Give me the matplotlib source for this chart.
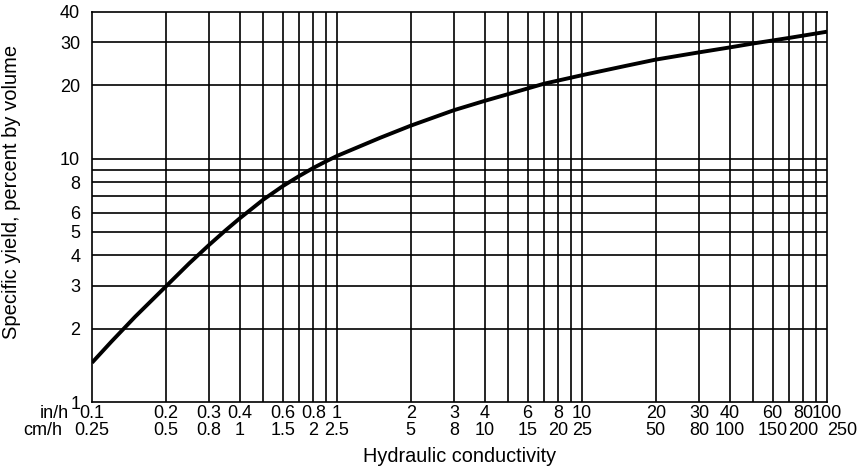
import matplotlib.pyplot as plt
from matplotlib.ticker import NullLocator

plt.rcParams['font.family'] = ['Liberation Sans', 'DejaVu Sans']

# curve (hydraulic conductivity in/h vs specific yield %)
k_inh = [0.1, 0.12, 0.15, 0.2, 0.25, 0.3, 0.35, 0.4, 0.5, 0.6, 0.7, 0.8, 0.9, 1,
         1.5, 2, 3, 4, 5, 7, 10, 15, 20, 30, 40, 50, 70, 100]
yield_pct = [1.45, 1.77, 2.24, 2.98, 3.72, 4.41, 5.06, 5.67, 6.78, 7.7, 8.47, 9.15, 9.73, 10.25,
             12.17, 13.65, 15.8, 17.25, 18.4, 20.3, 22.0, 24.0, 25.5, 27.3, 28.6, 29.7, 31.3, 33.2]

# paired tick labels, in/h and cm/h
inh_ticks = [0.1, 0.2, 0.3, 0.4, 0.6, 0.8, 1, 2, 3, 4, 6, 8, 10, 20, 30, 40, 60, 80, 100]
inh_labels = ['0.1', '0.2', '0.3', '0.4', '0.6', '0.8', '1', '2', '3', '4', '6', '8',
              '10', '20', '30', '40', '60', '80', '100']
cmh_labels = ['0.25', '0.5', '0.8', '1', '1.5', '2', '2.5', '5', '8', '10', '15', '20',
              '25', '50', '80', '100', '150', '200', '250']

x_grid = [0.2, 0.3, 0.4, 0.5, 0.6, 0.7, 0.8, 0.9,
          1, 2, 3, 4, 5, 6, 7, 8, 9,
          10, 20, 30, 40, 50, 60, 70, 80, 90]
y_grid = [2, 3, 4, 5, 6, 7, 8, 9, 10, 20, 30]
y_ticks = [1, 2, 3, 4, 5, 6, 8, 10, 20, 30, 40]

fig = plt.figure(figsize=(8.67, 4.72), dpi=100)
ax = fig.add_axes([0.1061, 0.1483, 0.8478, 0.8263])
ax.set_xscale('log')
ax.set_yscale('log')
ax.set_xlim(0.1, 100)
ax.set_ylim(1, 40)

# grid drawn by hand: all vertical decade subdivisions, only some horizontals
for v in x_grid:
    ax.axvline(v, color='black', lw=1.2, zorder=1)
for v in y_grid:
    ax.axhline(v, color='black', lw=1.2, zorder=1)

ax.plot(k_inh, yield_pct, color='black', lw=2.8, zorder=3,
        solid_joinstyle='round', solid_capstyle='butt')

for s in ax.spines.values():
    s.set_linewidth(1.2)
    s.set_color('black')

# y axis ticks
ax.yaxis.set_minor_locator(NullLocator())
ax.set_yticks(y_ticks, labels=[str(t) for t in y_ticks])
ax.tick_params(axis='y', length=0, pad=8.5, labelsize=13)
ax.set_ylabel('Specific yield, percent by volume', fontsize=14.5)
ax.yaxis.set_label_coords(-0.097, 0.538)

# x axis: two rows of labels written as text
ax.xaxis.set_major_locator(NullLocator())
ax.xaxis.set_minor_locator(NullLocator())
trans = ax.get_xaxis_transform()
for i, t in enumerate(inh_ticks):
    ax.text(t, -0.03, inh_labels[i], transform=trans, ha='center', va='center', fontsize=13)
    ha = 'left' if i == len(inh_ticks) - 1 else 'center'
    ax.text(t, -0.074, cmh_labels[i], transform=trans, ha=ha, va='center', fontsize=13)
ax.text(-0.032, -0.03, 'in/h', transform=ax.transAxes, ha='right', va='center', fontsize=13)
ax.text(-0.04, -0.074, 'cm/h', transform=ax.transAxes, ha='right', va='center', fontsize=13)
ax.text(0.5, -0.14, 'Hydraulic conductivity', transform=ax.transAxes,
        ha='center', va='center', fontsize=14.3)

fig.savefig('out.png', dpi=100)
